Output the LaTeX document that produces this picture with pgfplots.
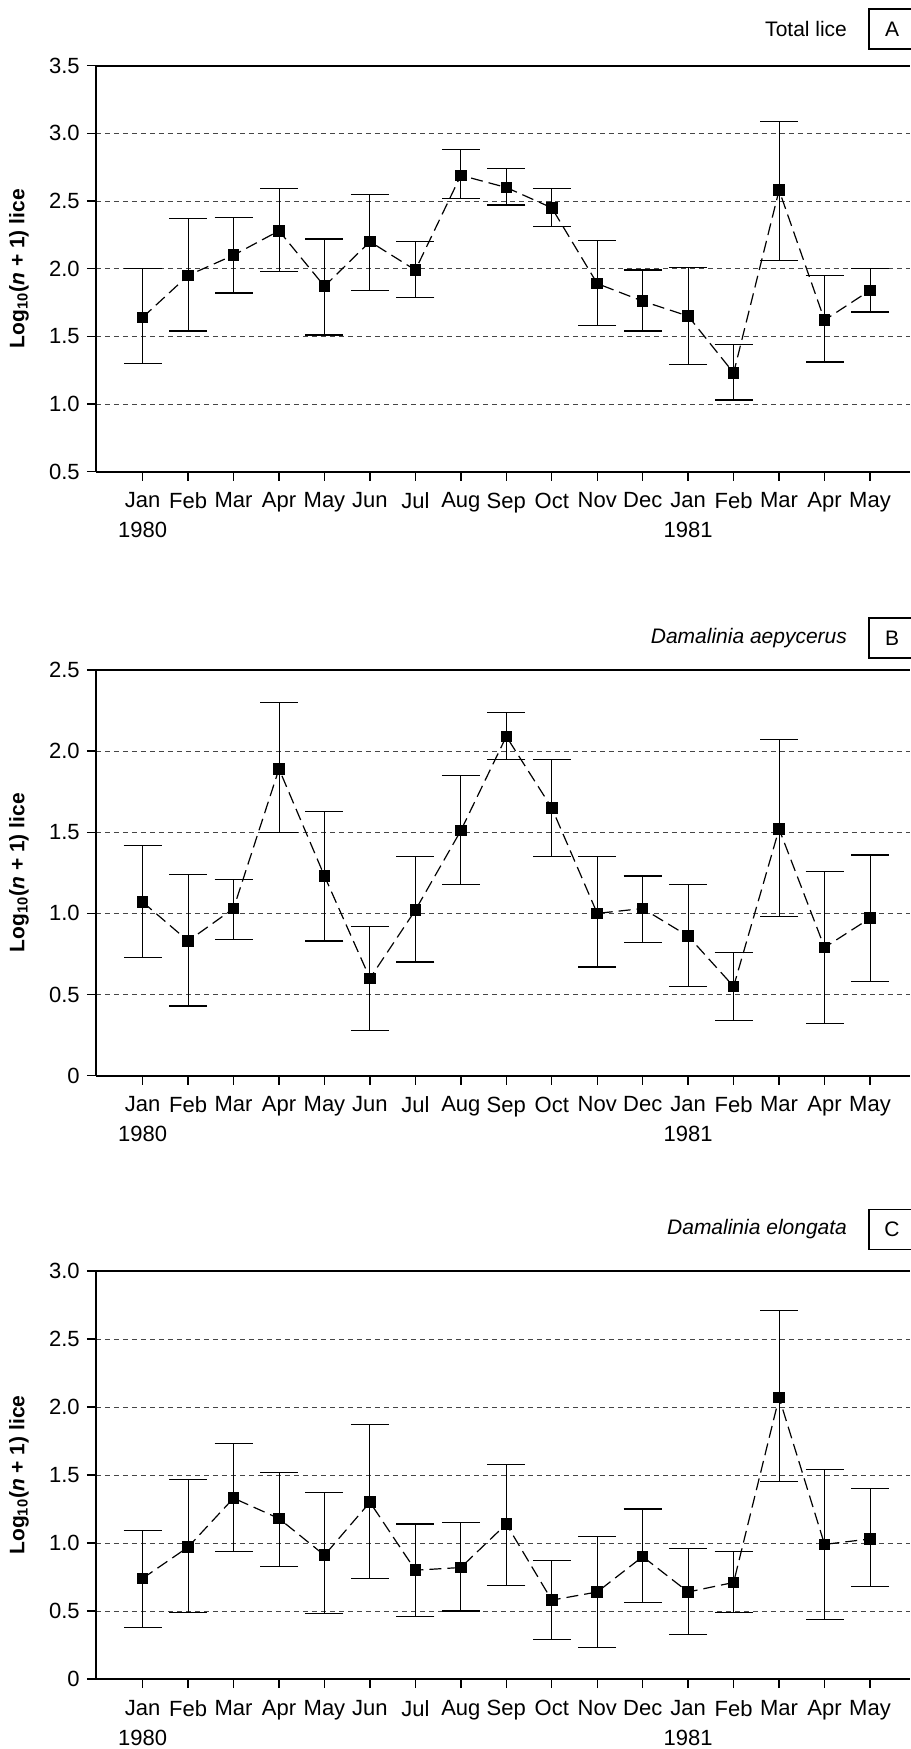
\documentclass[border=0pt]{standalone}
\usepackage{pgfplots}
\pgfplotsset{compat=1.18}
\usepackage{pgfplotstable}
\usepackage{fontspec}
\setmainfont{Liberation Sans}

\pgfplotstableread{
x y hi lo
0 1.64 2.00 1.30
1 1.95 2.37 1.54
2 2.10 2.38 1.82
3 2.28 2.59 1.98
4 1.87 2.22 1.51
5 2.20 2.55 1.84
6 1.99 2.20 1.79
7 2.69 2.88 2.52
8 2.60 2.74 2.47
9 2.45 2.59 2.31
10 1.89 2.21 1.58
11 1.76 1.99 1.54
12 1.65 2.01 1.29
13 1.23 1.44 1.03
14 2.58 3.09 2.06
15 1.62 1.95 1.31
16 1.84 2.00 1.68
}\dataA

\pgfplotstableread{
x y hi lo
0 1.07 1.42 0.73
1 0.83 1.24 0.43
2 1.03 1.21 0.84
3 1.89 2.30 1.50
4 1.23 1.63 0.83
5 0.60 0.92 0.28
6 1.02 1.35 0.70
7 1.51 1.85 1.18
8 2.09 2.24 1.95
9 1.65 1.95 1.35
10 1.00 1.35 0.67
11 1.03 1.23 0.82
12 0.86 1.18 0.55
13 0.55 0.76 0.34
14 1.52 2.07 0.98
15 0.79 1.26 0.32
16 0.97 1.36 0.58
}\dataB

\pgfplotstableread{
x y hi lo
0 0.74 1.09 0.38
1 0.97 1.47 0.49
2 1.33 1.73 0.94
3 1.18 1.52 0.83
4 0.91 1.37 0.48
5 1.30 1.87 0.74
6 0.80 1.14 0.46
7 0.82 1.15 0.50
8 1.14 1.58 0.69
9 0.58 0.87 0.29
10 0.64 1.05 0.23
11 0.90 1.25 0.56
12 0.64 0.96 0.33
13 0.71 0.94 0.49
14 2.07 2.71 1.45
15 0.99 1.54 0.44
16 1.03 1.40 0.68
}\dataC

\pgfplotsset{
  panel/.style={
    scale only axis,
    width=407.1pt,
    xmin=-1.03, xmax=16.88,
    axis x line*=box,
    axis y line*=left,
    y axis line style={-},
    axis line style={line width=1pt, black},
    xtick={0,...,16},
    xticklabels={{Jan\\1980},Feb,Mar,Apr,May,Jun,Jul,Aug,Sep,Oct,Nov,Dec,{Jan\\1981},Feb,Mar,Apr,May},
    xtick pos=left, ytick pos=left,
    tick align=outside,
    major tick length=4.5pt,
    every tick/.style={black, line width=0.7pt},
    xticklabel style={align=center, font=\fontsize{11}{15}\selectfont, yshift=-2.5pt},
    yticklabel style={font=\fontsize{11}{12}\selectfont},
    ymajorgrids,
    major grid style={dash pattern=on 2.5pt off 2pt, gray!55!black, line width=0.5pt},
    ylabel={\textbf{Log\textsubscript{10}(\textit{n} + 1) lice}},
    ylabel style={at={(axis description cs:-0.0943,0.5)}, anchor=center, font=\fontsize{10.5}{12}\selectfont},
    clip=false,
  },
  series/.style={black, line width=0.6pt, dash pattern=on 6pt off 3pt,
    mark=square*, mark size=2.6pt, mark options={solid, fill=black},
    error bars/.cd, y dir=both, y explicit,
    error mark=|,
    error bar style={solid, line width=0.5pt},
    error mark options={solid, mark size=9.5pt, line width=0.6pt}},
}

\begin{document}
\begin{tikzpicture}[x=1pt,y=1pt]
\useasboundingbox (0,0) rectangle (455,-874.5);

% Panel A
\begin{axis}[panel, at={(47.9pt,-235.85pt)}, anchor=south west, height=203pt,
  ymin=0.5, ymax=3.5, ytick={0.5,1.0,...,3.5},
  yticklabels={0.5,1.0,1.5,2.0,2.5,3.0,3.5}]
\addplot[series] table[x=x, y=y, y error plus expr=\thisrow{hi}-\thisrow{y}, y error minus expr=\thisrow{y}-\thisrow{lo}] {\dataA};
\end{axis}
\node[anchor=east, font=\fontsize{10.5}{12}\selectfont] at (427,-14.5) {Total lice};
\draw[line width=0.6pt] (434.5,-4.5) rectangle (470,-24.5);
\node[font=\fontsize{10.5}{12}\selectfont] at (446,-14.5) {A};

% Panel B
\begin{axis}[panel, at={(47.9pt,-537.85pt)}, anchor=south west, height=202.9pt,
  ymin=0, ymax=2.5, ytick={0,0.5,...,2.5},
  yticklabels={0,0.5,1.0,1.5,2.0,2.5}]
\addplot[series] table[x=x, y=y, y error plus expr=\thisrow{hi}-\thisrow{y}, y error minus expr=\thisrow{y}-\thisrow{lo}] {\dataB};
\end{axis}
\node[anchor=east, font=\fontsize{10.5}{12}\selectfont] at (427,-319) {\textit{Damalinia aepycerus}};
\draw[line width=0.6pt] (434.5,-309) rectangle (470,-329);
\node[font=\fontsize{10.5}{12}\selectfont] at (446,-319) {B};

% Panel C
\begin{axis}[panel, at={(47.9pt,-839.5pt)}, anchor=south west, height=204pt,
  ymin=0, ymax=3, ytick={0,0.5,...,3.0},
  yticklabels={0,0.5,1.0,1.5,2.0,2.5,3.0}]
\addplot[series] table[x=x, y=y, y error plus expr=\thisrow{hi}-\thisrow{y}, y error minus expr=\thisrow{y}-\thisrow{lo}] {\dataC};
\end{axis}
\node[anchor=east, font=\fontsize{10.5}{12}\selectfont] at (427,-614.75) {\textit{Damalinia elongata}};
\draw[line width=0.6pt] (434.5,-604.75) rectangle (470,-624.75);
\node[font=\fontsize{10.5}{12}\selectfont] at (446,-614.75) {C};
\end{tikzpicture}
\end{document}
